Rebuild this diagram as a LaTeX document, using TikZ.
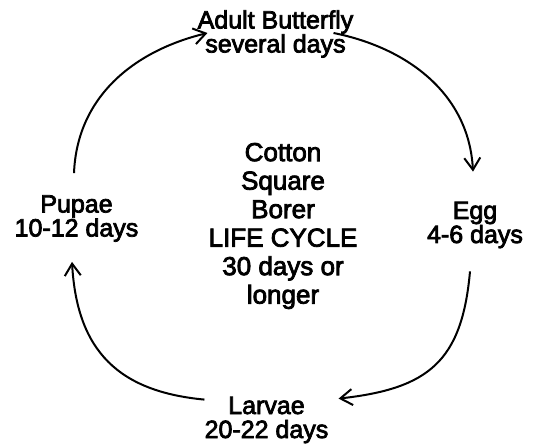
\documentclass[tikz,border=0pt]{standalone}
\usepackage{fontspec}
\setmainfont{Liberation Sans}[FakeBold=3]
\usepackage{tikz}
\usetikzlibrary{arrows.meta}

\tikzset{
    stage/.style={inner sep=0pt, align=center,
      font=\fontsize{25}{24}\selectfont},
    title/.style={inner sep=0pt, align=center,
      font=\fontsize{26}{28.5}\selectfont},
    stage line/.style={line width=2pt,draw=black,
      -{Straight Barb[length=12pt,width=16pt]}}
}

\begin{document}
\begin{tikzpicture}[x=1pt,y=1pt]
  \useasboundingbox (0,0) rectangle (541,446);

  % stages
  \node[stage] (adult) at (275.5,412) {Adult Butterfly\\several days};
  \node[stage] (egg) at (475,221) {Egg\\4-6 days};
  \node[stage] (larvae) at (266.5,26) {Larvae\\20-22 days};
  \node[stage] (pupae) at (76.5,227.5) {Pupae\\10-12 days};

  % middle
  \node[title] (cycle) at (283,220)
  {Cotton\\Square\\Borer\\LIFE CYCLE\\30 days or\\longer};

  % links
  \draw[stage line] ([xshift=-2.5pt,yshift=22pt]pupae.north) ..
  controls +(3,76) and +(-74,-18) .. ([xshift=10pt,yshift=1pt]adult.west);
  \draw[stage line] ([xshift=-20pt,yshift=1pt]adult.east) ..
  controls +(75,-15) and +(-4,77) .. ([xshift=-2pt,yshift=30pt]egg.north);
  \draw[stage line] ([xshift=-5pt,yshift=-23pt]egg.south) ..
  controls +(-8,-90) and +(90,10) .. ([xshift=10pt,yshift=-2pt]larvae.north east);
  \draw[stage line] ([yshift=-3pt]larvae.north west) ..
  controls +(-85,8) and +(5,-90) .. ([xshift=-4.5pt,yshift=-20pt]pupae.south);

\end{tikzpicture}
\end{document}
